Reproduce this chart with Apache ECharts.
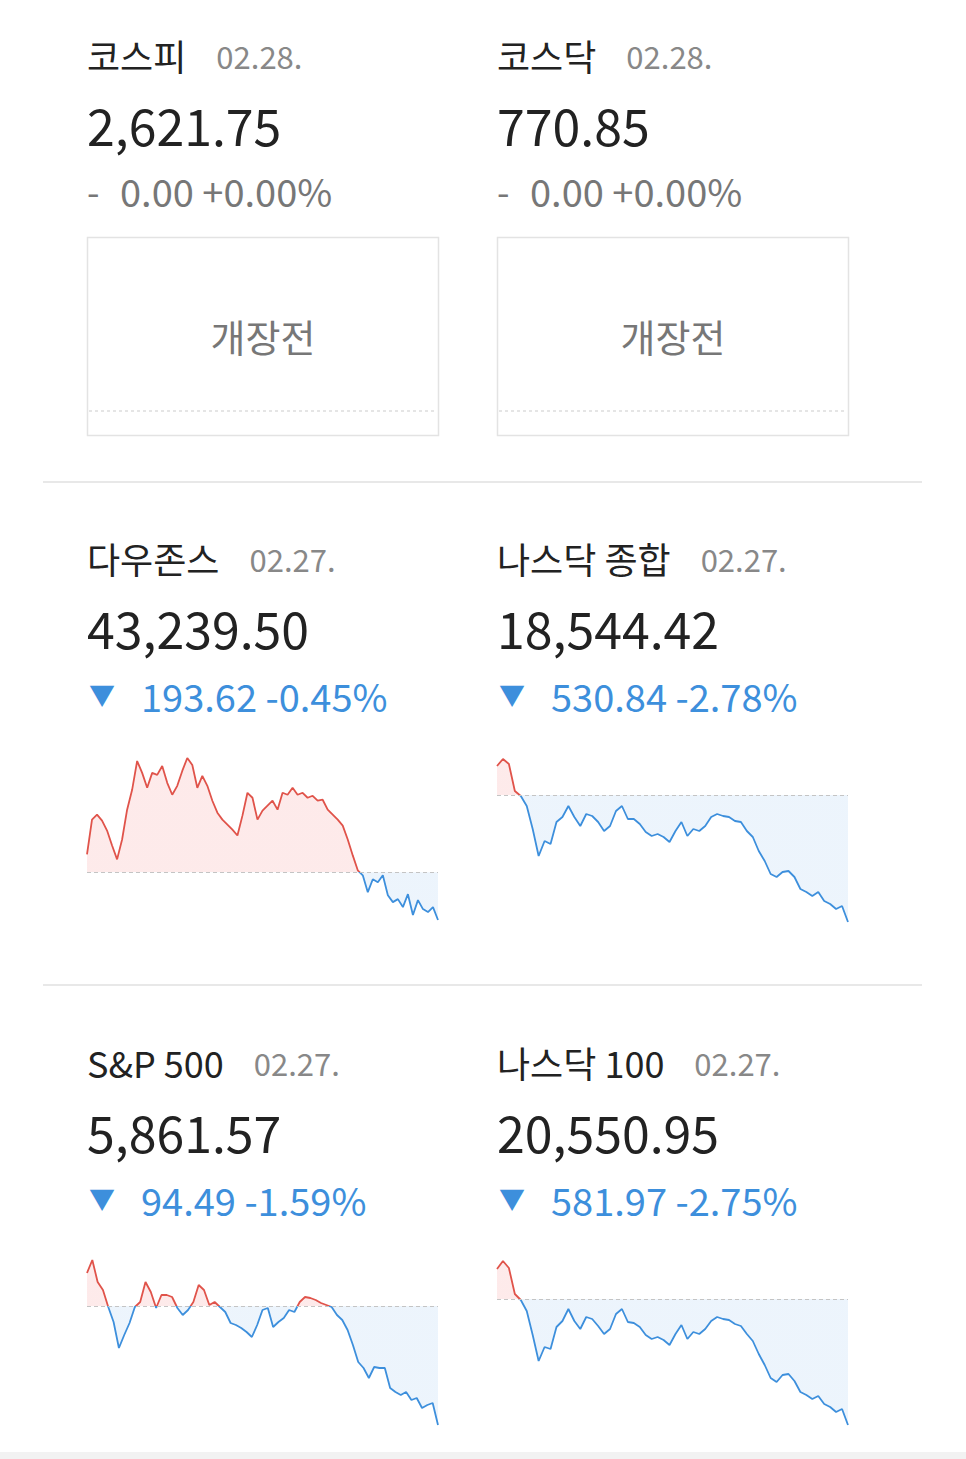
<!DOCTYPE html>
<html>
<head>
<meta charset="utf-8">
<script src="https://cdn.jsdelivr.net/npm/echarts@6/dist/echarts.min.js"></script>
<style>
  html, body { margin: 0; padding: 0; background: #fff; }
  #board { width: 966px; height: 1459px; }
</style>
</head>
<body>
<div id="board"></div>
<script>
// Change from previous close (one unit ~ one pixel)
const dowChange = [18, 53, 58, 52, 42, 27, 13, 33, 63, 83, 112, 100, 85, 100, 98, 107, 90, 78, 87, 102,
  115, 108, 85, 97, 87, 72, 60, 53, 48, 43, 37, 57, 80, 75, 53, 62, 67, 72, 63, 80,
  78, 85, 78, 80, 75, 77, 72, 73, 63, 58, 53, 47, 33, 17, 2, -3, -20, -7, -10, -3,
  -23, -30, -27, -35, -22, -43, -28, -37, -40, -35, -48];
const nasdaqChange = [29, 36, 31, 4, -1, -11, -34, -61, -46, -49, -27, -22, -11, -22, -31, -19, -21, -27, -36, -31,
  -16, -11, -24, -24, -29, -37, -41, -39, -42, -47, -36, -27, -41, -34, -36, -31, -22, -19, -21, -22,
  -26, -27, -36, -42, -56, -66, -79, -82, -77, -76, -82, -94, -97, -101, -97, -106, -109, -114, -111, -127];
const spChange = [33, 46, 24, 16, -1, -16, -42, -29, -17, -1, 4, 24, 14, -2, 11, 11, 9, -2, -9, -4,
  4, 21, 16, 1, 4, -1, -6, -17, -19, -22, -26, -31, -19, -4, -2, -21, -16, -12, -4, -6,
  4, 9, 8, 6, 3, 1, -1, -9, -14, -24, -39, -56, -62, -72, -61, -62, -62, -82, -86, -89,
  -86, -94, -92, -102, -99, -97, -119];
const nq100Change = [30, 38, 31, 5, -1, -12, -36, -62, -48, -50, -28, -22, -10, -22, -30, -18, -20, -27, -35, -30,
  -15, -10, -23, -24, -28, -36, -40, -38, -41, -46, -35, -26, -40, -33, -35, -30, -22, -18, -20, -21,
  -25, -27, -35, -42, -55, -66, -79, -83, -76, -75, -82, -93, -96, -100, -97, -105, -108, -113, -110, -126];

const cards = [
  { name: '코스피', date: '02.28.', value: '2,621.75', change: '0.00', pct: '+0.00%', dir: 'flat', x: 87, y: 0 },
  { name: '코스닥', date: '02.28.', value: '770.85', change: '0.00', pct: '+0.00%', dir: 'flat', x: 497, y: 0 },
  { name: '다우존스', date: '02.27.', value: '43,239.50', change: '193.62', pct: '-0.45%', dir: 'down', x: 87, y: 503 },
  { name: '나스닥 종합', date: '02.27.', value: '18,544.42', change: '530.84', pct: '-2.78%', dir: 'down', x: 497, y: 503 },
  { name: 'S&P 500', date: '02.27.', value: '5,861.57', change: '94.49', pct: '-1.59%', dir: 'down', x: 87, y: 1007 },
  { name: '나스닥 100', date: '02.27.', value: '20,550.95', change: '581.97', pct: '-2.75%', dir: 'down', x: 497, y: 1007 },
];

const sparks = [
  { data: dowChange, left: 87, top: 757, min: -50, max: 116 },
  { data: nasdaqChange, left: 497, top: 757, min: -127, max: 38 },
  { data: spChange, left: 87, top: 1260, min: -119, max: 46 },
  { data: nq100Change, left: 497, top: 1260, min: -126, max: 39 },
];

const FONT = '"Noto Sans CJK KR", "Noto Sans", sans-serif';
const RED = '#e0534a';
const BLUE = '#3d8fdc';
const SPARK_H = 165;

const chart = echarts.init(document.getElementById('board'), null, { renderer: 'svg' });

function textEl(x, y, text, size, color, align) {
  return {
    type: 'text', x, y, silent: true,
    style: { text, fontSize: size, fill: color, fontFamily: FONT, align: align || 'left', verticalAlign: 'middle' },
  };
}

const ctx = document.createElement('canvas').getContext('2d');
function textWidth(text, size) {
  ctx.font = `${size}px ${FONT}`;
  return ctx.measureText(text).width;
}

// hard red/blue split at the previous-close line, in page coordinates
function splitGradient(s, up, down) {
  const cut = s.max / (s.max - s.min);
  return {
    type: 'linear', x: 0, y: s.top, x2: 0, y2: s.top + SPARK_H, global: true,
    colorStops: [
      { offset: 0, color: up }, { offset: cut, color: up },
      { offset: cut, color: down }, { offset: 1, color: down },
    ],
  };
}

const graphics = [];
cards.forEach((c) => {
  graphics.push(textEl(c.x, c.y + 55, c.name, 36, '#222'));
  graphics.push(textEl(c.x + textWidth(c.name, 36) + 30, c.y + 55, c.date, 31, '#888'));
  graphics.push(textEl(c.x, c.y + 124, c.value, 50, '#222'));
  if (c.dir === 'flat') {
    graphics.push(textEl(c.x, c.y + 190, '-', 36, '#777'));
    graphics.push(textEl(c.x + 33, c.y + 190, `${c.change} ${c.pct}`, 38, '#777'));
    graphics.push({
      type: 'rect', silent: true,
      shape: { x: c.x + 0.5, y: 237.5, width: 351, height: 198 },
      style: { fill: '#fff', stroke: '#e3e3e3', lineWidth: 1.5 },
    });
    graphics.push({
      type: 'line', silent: true,
      shape: { x1: c.x + 2, y1: 411, x2: c.x + 350, y2: 411 },
      style: { stroke: '#ddd', lineWidth: 1.5, lineDash: [3, 3] },
    });
    graphics.push(textEl(c.x + 176, 335, '개장전', 38, '#777', 'center'));
  } else {
    graphics.push(textEl(c.x + 2, c.y + 190, '▼', 26, BLUE));
    graphics.push(textEl(c.x + 54, c.y + 192, `${c.change} ${c.pct}`, 38, BLUE));
  }
});
[482, 985].forEach((y) => {
  graphics.push({
    type: 'line', silent: true,
    shape: { x1: 43, y1: y, x2: 922, y2: y },
    style: { stroke: '#e8e8e8', lineWidth: 2 },
  });
});
graphics.push({
  type: 'rect', silent: true,
  shape: { x: 0, y: 1452, width: 966, height: 7 },
  style: { fill: '#f2f2f2' },
});

chart.setOption({
  animation: false,
  backgroundColor: '#fff',
  graphic: graphics,
  grid: sparks.map((s) => ({ left: s.left, top: s.top, width: 351, height: SPARK_H })),
  xAxis: sparks.map((s, i) => ({
    type: 'category', gridIndex: i, show: false, boundaryGap: false,
    data: s.data.map((_, k) => k),
  })),
  yAxis: sparks.map((s, i) => ({ type: 'value', gridIndex: i, show: false, min: s.min, max: s.max })),
  series: sparks.map((s, i) => ({
    type: 'line', xAxisIndex: i, yAxisIndex: i, data: s.data,
    showSymbol: false, smooth: false,
    lineStyle: { width: 1.8, color: splitGradient(s, RED, BLUE) },
    areaStyle: { origin: 0, color: splitGradient(s, 'rgba(245,120,120,0.22)', 'rgba(90,160,230,0.16)') },
    markLine: {
      silent: true, symbol: 'none', label: { show: false },
      lineStyle: { type: [4, 3], color: '#c4c4c4', width: 1.2 },
      data: [{ yAxis: 0 }],
    },
  })),
});
</script>
</body>
</html>
